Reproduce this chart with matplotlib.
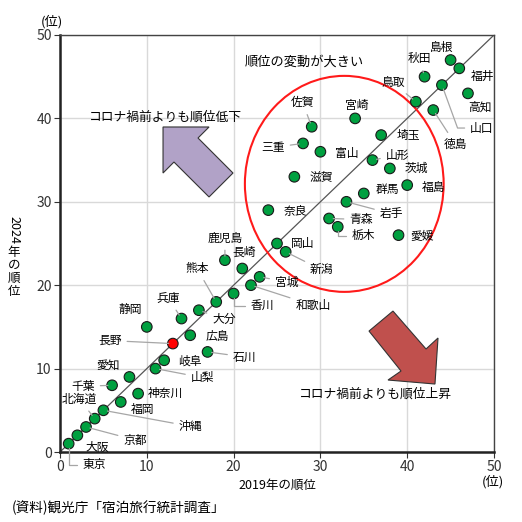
import numpy as np
import matplotlib
matplotlib.use('Agg')
import matplotlib.pyplot as plt
from matplotlib.patches import Ellipse, Polygon

plt.rcParams['font.family'] = ['Noto Sans CJK JP', 'DejaVu Sans']
plt.rcParams['font.size'] = 8.5

# prefecture ranks (2019 rank, 2024 rank)
names = ['東京', '大阪', '京都', '北海道', '沖縄', '千葉', '福岡', '愛知', '神奈川', '静岡',
         '山梨', '岐阜', '長野', '兵庫', '広島', '大分', '石川', '熊本', '鹿児島', '香川',
         '長崎', '和歌山', '宮城', '奈良', '岡山', '新潟', '滋賀', '三重', '佐賀', '富山',
         '青森', '栃木', '岩手', '宮崎', '群馬', '山形', '埼玉', '茨城', '愛媛', '福島',
         '鳥取', '秋田', '徳島', '山口', '島根', '福井', '高知']
rank2019 = [1, 2, 3, 4, 5, 6, 7, 8, 9, 10,
            11, 12, 13, 14, 15, 16, 17, 18, 19, 20,
            21, 22, 23, 24, 25, 26, 27, 28, 29, 30,
            31, 32, 33, 34, 35, 36, 37, 38, 39, 40,
            41, 42, 43, 44, 45, 46, 47]
rank2024 = [1, 2, 3, 4, 5, 8, 6, 9, 7, 15,
            10, 11, 13, 16, 14, 17, 12, 18, 23, 19,
            22, 20, 21, 29, 25, 24, 33, 37, 39, 36,
            28, 27, 30, 40, 31, 35, 38, 34, 26, 32,
            42, 45, 41, 44, 47, 46, 43]

# label offsets in pixels (dx, dy) and leader style: None / 'line' / angleB for elbow
label_pos = {
    '東京': (26, -21, 90), '大阪': (20, -12, None), '京都': (49, -13, 'line'),
    '北海道': (-15, 19, 'line'), '沖縄': (87, -16, 'line'), '千葉': (-29, -1, 'line'),
    '福岡': (22, -8, None), '愛知': (-21, 12, None), '神奈川': (27, 0, None),
    '静岡': (-17, 17, None), '山梨': (47, -9, 'line'), '岐阜': (26, -1, None),
    '長野': (-63, 3, 'line'), '兵庫': (-13, 20, 'line'), '広島': (27, -1, None),
    '大分': (25, -9, 'line'), '石川': (37, -5, 'line'), '熊本': (-19, 33, 'line'),
    '鹿児島': (0, 22, 'line'), '香川': (29, -12, 90), '長崎': (2, 16, None),
    '和歌山': (62, -20, 'line'), '宮城': (27, -5, 'line'), '奈良': (27, -1, None),
    '岡山': (26, 0, None), '新潟': (36, -18, 'line'), '滋賀': (27, 0, None),
    '三重': (-30, -4, 'line'), '佐賀': (-9, 24, 'line'), '富山': (26, -2, None),
    '青森': (32, -1, 'line'), '栃木': (26, -9, 90), '岩手': (45, -12, 'line'),
    '宮崎': (2, 13, None), '群馬': (24, 4, None), '山形': (25, 5, 'line'),
    '埼玉': (27, 0, None), '茨城': (27, 0, None), '愛媛': (24, -1, None),
    '福島': (26, -2, None), '鳥取': (-23, 19, 'line'), '秋田': (-5, 18, 'line'),
    '徳島': (22, -34, 'line'), '山口': (40, -43, 110), '島根': (-9, 13, None),
    '福井': (23, -8, None), '高知': (12, -14, None),
}
highlight = '長野'

fig = plt.figure(figsize=(5.22, 5.22), dpi=100)
ax = fig.add_axes([60 / 522, 70 / 522, 434 / 522, 417 / 522])

ax.set_xlim(0, 50)
ax.set_ylim(0, 50)
ax.set_xticks(np.arange(0, 51, 10))
ax.set_yticks(np.arange(0, 51, 10))
ax.grid(True, color='#d9d9d9', lw=1)
ax.set_axisbelow(True)
ax.tick_params(direction='out', length=4, labelsize=10, colors='#333333', pad=2)
for s in ['left', 'bottom']:
    ax.spines[s].set_linewidth(1.8)
    ax.spines[s].set_color('#222222')
for s in ['top', 'right']:
    ax.spines[s].set_linewidth(1.0)
    ax.spines[s].set_color('#444444')

ax.plot([0, 50], [0, 50], color='#555555', lw=0.9, zorder=2)

ell = Ellipse((32.75, 32.15), 22.9, 25.9, fill=False, edgecolor='#ff1a1a', lw=1.5, zorder=2)
ax.add_patch(ell)

# arrows
up_arrow = [(11.87, 38.97), (17.17, 38.97), (15.9, 37.65), (19.93, 33.45),
            (17.17, 30.58), (13.13, 34.77), (11.87, 33.45)]
down_arrow = [(38.36, 16.9), (35.6, 14.5), (39.29, 9.71), (37.79, 8.63),
              (43.2, 8.15), (43.55, 13.67), (42.17, 12.35)]
ax.add_patch(Polygon(up_arrow, closed=True, facecolor='#b1a2c7', edgecolor='#333333', lw=0.8, zorder=3))
ax.add_patch(Polygon(down_arrow, closed=True, facecolor='#c0504d', edgecolor='#333333', lw=0.8, zorder=3))

colors = ['#ff0000' if n == highlight else '#00a040' for n in names]
ax.scatter(rank2019, rank2024, s=58, c=colors, edgecolors='#1a1a1a', linewidths=0.8, zorder=5, clip_on=False)

for n, x, y in zip(names, rank2019, rank2024):
    dx, dy, lead = label_pos[n]
    props = None
    if lead == 'line':
        props = dict(arrowstyle='-', color='#a6a6a6', lw=0.9, shrinkA=2, shrinkB=3)
    elif lead is not None:
        props = dict(arrowstyle='-', color='#a6a6a6', lw=0.9, shrinkA=2, shrinkB=3,
                     connectionstyle='angle,angleA=0,angleB=%d,rad=0' % lead)
    ax.annotate(n, (x, y), xytext=(dx, dy), textcoords='offset pixels',
                ha='center', va='center', fontsize=8.5, arrowprops=props, zorder=6)

ax.text(12.15, 40.2, 'コロナ禍前よりも順位低下', ha='center', va='center', fontsize=9.2)
ax.text(28.2, 46.75, '順位の変動が大きい', ha='center', va='center', fontsize=9.5)
ax.text(36.35, 6.95, 'コロナ禍前よりも順位上昇', ha='center', va='center', fontsize=9.2)

# axis titles
fig.text(277 / 522, 1 - 485 / 522, '2019年の順位', ha='center', va='center', fontsize=9)
fig.text(14 / 522, 1 - 230 / 522, '2024', rotation=-90, ha='center', va='center', fontsize=9)
for i, ch in enumerate('年の順位'):
    fig.text(14 / 522, 1 - (252 + 13 * i) / 522, ch, ha='center', va='center', fontsize=9)
fig.text(52 / 522, 1 - 22 / 522, '(位)', ha='center', va='center', fontsize=9.5)
fig.text(493 / 522, 1 - 482 / 522, '(位)', ha='center', va='center', fontsize=9.5)
fig.text(12 / 522, 1 - 508 / 522, '(資料)観光庁「宿泊旅行統計調査」', ha='left', va='center', fontsize=9.8)

fig.savefig('out.png', dpi=100)
